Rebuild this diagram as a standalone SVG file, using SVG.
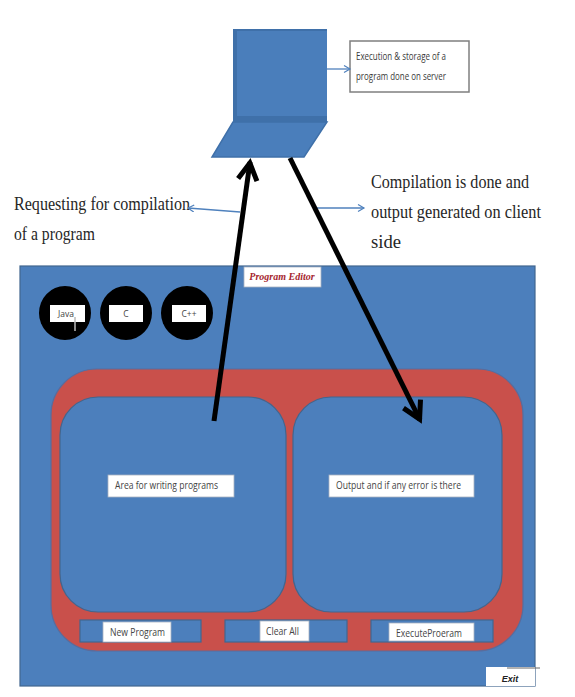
<svg xmlns="http://www.w3.org/2000/svg" width="575" height="697" viewBox="0 0 575 697">
<defs>
<marker id="thin" markerWidth="9" markerHeight="9" refX="7" refY="4" orient="auto" markerUnits="userSpaceOnUse"><path d="M1 0.5L7 4L1 7.5" fill="none" stroke="#4f81bd" stroke-width="1.2"/></marker>
<marker id="bold" markerWidth="26" markerHeight="26" refX="21" refY="12" orient="auto" markerUnits="userSpaceOnUse"><path d="M3 2.5L20 12L3 21.5" fill="none" stroke="#000" stroke-width="5"/></marker>
</defs>
<style>
.blue{fill:#4c7fbc;stroke:#41668f;stroke-width:1.2}
.box{fill:#fff;stroke:#a8b2c0;stroke-width:.8}
.s{font-family:"Open Sans","Liberation Sans",sans-serif;font-size:11.5px;fill:#3a3a3a}
.m{font-family:"Open Sans","Liberation Sans",sans-serif;font-size:10.5px;fill:#444}
.c{font-family:"Open Sans","Liberation Sans",sans-serif;font-size:8.5px;fill:#444}
.b{font-family:"Liberation Serif",serif;font-size:19.5px;fill:#262626}
.thin{stroke:#4f81bd;stroke-width:1.3;fill:none}
.bold{stroke:#000;stroke-width:5;fill:none}
</style>
<rect width="575" height="697" fill="#fff"/>
<g id="laptop">
<path d="M233 29H327V122H233Z" fill="#4a7ebb"/>
<path d="M233 29H327V31H237V116H327V122H233Z" fill="#3f70a9"/>
<path d="M233 122H327L304 157H212Z" fill="#4a7ebb" stroke="#3f70a9" stroke-width="1.5"/>
</g>
<g id="server-note">
<rect x="350" y="41" width="119" height="51" fill="#fff" stroke="#7f7f7f" stroke-width="1.5"/>
<text x="356" y="60" class="s" textLength="90" lengthAdjust="spacingAndGlyphs">Execution &amp; storage of a</text>
<text x="356" y="80" class="s" textLength="90" lengthAdjust="spacingAndGlyphs">program done on server</text>
</g>
<g id="request-label">
<text x="14" y="210" class="b" textLength="176" lengthAdjust="spacingAndGlyphs">Requesting for compilation</text>
<text x="14" y="240" class="b" textLength="81" lengthAdjust="spacingAndGlyphs">of a program</text>
</g>
<g id="output-label">
<text x="371" y="188" class="b" textLength="158" lengthAdjust="spacingAndGlyphs">Compilation is done and</text>
<text x="371" y="218" class="b" textLength="170" lengthAdjust="spacingAndGlyphs">output generated on client</text>
<text x="371" y="248" class="b" textLength="30" lengthAdjust="spacingAndGlyphs">side</text>
</g>
<g id="editor">
<rect class="blue" x="20" y="266" width="515" height="420"/>
</g>
<g id="title">
<rect class="box" x="244" y="267" width="77" height="20"/>
<text x="282" y="280" text-anchor="middle" style="font-family:'Liberation Serif',serif;font-size:10px;font-weight:bold;font-style:italic;fill:#a5262e">Program Editor</text>
</g>
<g id="lang-java">
<ellipse cx="65" cy="313" rx="26" ry="27" fill="#000"/>
<rect x="50" y="305" width="35" height="17" fill="#fff"/>
<text x="66" y="317" text-anchor="middle" class="c">Java</text>
<path d="M75 317V331" stroke="#bbb" stroke-width="1.5"/>
</g>
<g id="lang-c">
<ellipse cx="126" cy="313" rx="26" ry="27" fill="#000"/>
<rect x="109" y="305" width="34" height="17" fill="#fff"/>
<text x="126" y="317" text-anchor="middle" class="c">C</text>
</g>
<g id="lang-cpp">
<ellipse cx="187" cy="313" rx="26" ry="27" fill="#000"/>
<rect x="172" y="305" width="34" height="17" fill="#fff"/>
<text x="189" y="317" text-anchor="middle" class="c">C++</text>
</g>
<g id="panel">
<rect x="51" y="369" width="472" height="282" rx="46" fill="#c9504b" stroke="#5a6c9c" stroke-width="1.2"/>
</g>
<g id="write-area">
<rect class="blue" x="60" y="397" width="226" height="215" rx="38"/>
<rect class="box" x="108" y="475" width="126" height="22"/>
<text x="115" y="489" class="m" textLength="103" lengthAdjust="spacingAndGlyphs">Area for writing programs</text>
</g>
<g id="output-area">
<rect class="blue" x="293" y="397" width="209" height="215" rx="38"/>
<rect class="box" x="329" y="475" width="145" height="22"/>
<text x="336" y="489" class="m" textLength="125" lengthAdjust="spacingAndGlyphs">Output and if any error is there</text>
</g>
<g id="new-program">
<rect class="blue" x="80" y="620" width="121" height="22"/>
<rect class="box" x="103" y="622" width="68" height="20"/>
<text x="110" y="636" class="m" textLength="55" lengthAdjust="spacingAndGlyphs">New Program</text>
</g>
<g id="clear-all">
<rect class="blue" x="225" y="620" width="122" height="22"/>
<rect class="box" x="260" y="621" width="49" height="20"/>
<text x="266" y="635" class="m" textLength="33" lengthAdjust="spacingAndGlyphs">Clear All</text>
</g>
<g id="execute">
<rect class="blue" x="371" y="620" width="122" height="22"/>
<rect class="box" x="389" y="623" width="85" height="18"/>
<text x="396" y="637" class="m" textLength="66" lengthAdjust="spacingAndGlyphs">ExecuteProeram</text>
</g>
<g id="exit">
<rect x="486" y="667" width="49" height="19" fill="#fff"/>
<path d="M507 668H540" stroke="#666" stroke-width="1"/>
<text x="510" y="682" text-anchor="middle" style="font-family:'Liberation Sans',sans-serif;font-size:9px;font-weight:bold;font-style:italic;fill:#222">Exit</text>
</g>
<g id="connectors">
<path class="thin" d="M327 69H350" marker-end="url(#thin)"/>
<path class="thin" d="M240 212L188 208" marker-end="url(#thin)"/>
<path class="thin" d="M315 208H364" marker-end="url(#thin)"/>
<path class="bold" d="M214 421L250 162" marker-end="url(#bold)"/>
<path class="bold" d="M290 158L420 420" marker-end="url(#bold)"/>
</g>
</svg>
